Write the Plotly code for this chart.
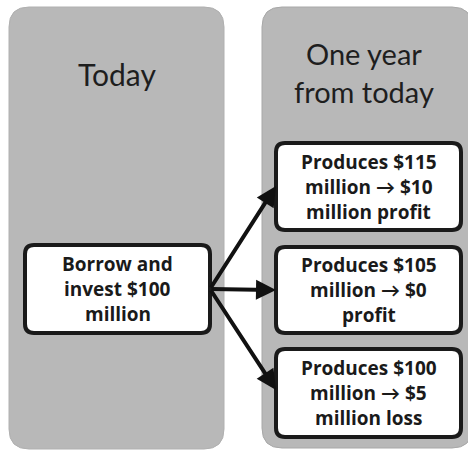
import plotly.graph_objects as go

# Diagram content
panel_titles = [["Today"], ["One year", "from today"]]
start_label = ["Borrow and", "invest $100", "million"]
outcome_labels = [
    ["Produces $115", "million \u2192 $10", "million profit"],
    ["Produces $105", "million \u2192 $0", "profit"],
    ["Produces $100", "million \u2192 $5", "million loss"],
]

W, H = 468, 452
GRAY = "#b8b8b8"


def rrect(x0, y0, x1, y1, r):
    return (f"M{x0+r},{y0} L{x1-r},{y0} Q{x1},{y0} {x1},{y0+r} "
            f"L{x1},{y1-r} Q{x1},{y1} {x1-r},{y1} L{x0+r},{y1} "
            f"Q{x0},{y1} {x0},{y1-r} L{x0},{y0+r} Q{x0},{y0} {x0+r},{y0} Z")


fig = go.Figure()
fig.add_trace(go.Scatter(x=[0, W], y=[0, H], mode="markers",
                         marker=dict(opacity=0), hoverinfo="skip", showlegend=False))

shapes = []
shapes.append(dict(type="path", path=rrect(9, 7, 224, 449, 20), fillcolor=GRAY,
                   line=dict(color="#b0b0b0", width=1), layer="below"))
shapes.append(dict(type="path", path=rrect(262, 7, 472, 448, 20), fillcolor=GRAY,
                   line=dict(color="#a8a8a8", width=1), layer="below"))

boxes_left = (25, 245, 210, 333)
boxes_right = [(276, 143, 461, 230), (276, 247, 461, 333), (276, 349, 461, 437)]

for (x0, y0, x1, y1) in [boxes_left] + boxes_right:
    shapes.append(dict(type="path", path=rrect(x0, y0, x1, y1, 9), fillcolor="white",
                       line=dict(color="#1a1a1a", width=4)))

annotations = []
font_title = dict(family="Lato, Open Sans, sans-serif", size=30, color="#1e1e1e")
annotations.append(dict(x=117, y=74, text="<br>".join(panel_titles[0]), showarrow=False,
                        font=font_title, xanchor="center", yanchor="middle"))
annotations.append(dict(x=364, y=72, text="<br>".join(panel_titles[1]), showarrow=False,
                        font=dict(font_title, size=29), xanchor="center",
                        yanchor="middle", align="center"))

font_box = dict(family="Open Sans, Lato, sans-serif", size=19, color="#1a1a1a",
                weight="bold")


def box_text(b, lines):
    x0, y0, x1, y1 = b
    n = len(lines)
    for i, t in enumerate(lines):
        y = (y0 + y1) / 2 + (i - (n - 1) / 2) * 25
        annotations.append(dict(x=(x0 + x1) / 2, y=y, text=t, showarrow=False,
                                font=font_box, xanchor="center", yanchor="middle"))


box_text(boxes_left, start_label)
for b, t in zip(boxes_right, outcome_labels):
    box_text(b, t)

sx, sy = 210, 289
targets = [(276, 186), (276, 290), (276, 390)]
for tx, ty in targets:
    annotations.append(dict(x=tx, y=ty, ax=sx, ay=sy, xref="x", yref="y",
                            axref="x", ayref="y", showarrow=True, arrowhead=2,
                            arrowsize=1.0, arrowwidth=4, arrowcolor="#111111",
                            text=""))

fig.update_layout(
    width=W, height=H, margin=dict(l=0, r=0, t=0, b=0),
    paper_bgcolor="white", plot_bgcolor="white",
    xaxis=dict(range=[0, W], visible=False, fixedrange=True),
    yaxis=dict(range=[H, 0], visible=False, fixedrange=True),
    shapes=shapes, annotations=annotations, showlegend=False,
)

fig.write_html("out.html", config={"displayModeBar": False},
               post_script="document.body.style.margin='0';document.body.style.overflow='hidden';")
